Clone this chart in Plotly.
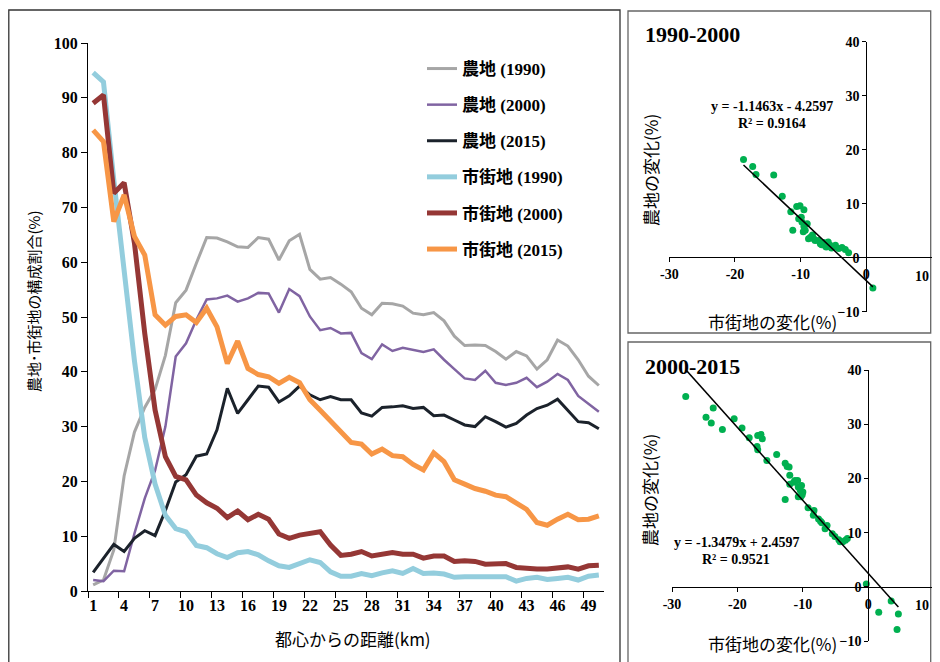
import plotly.graph_objects as go

# page offset of the plot inside the browser (default body margin)
OFF = 8
W, H = 940 - OFF, 662 - OFF
VISIBLE_RIGHT = 931.5  # page x beyond which the plot is clipped

# ---------------- data ----------------
distance_km = list(range(1, 51))
x_tick_labels = [str(v) for v in range(1, 50, 3)]

farm_1990 = [1.1, 2.0, 7.5, 21.0, 29.0, 33.5, 36.8, 43.0, 52.6, 54.9,
             59.8, 64.5, 64.4, 63.7, 62.8, 62.7, 64.5, 64.2, 60.4, 63.9,
             65.1, 58.7, 56.9, 57.2, 56.0, 54.6, 51.6, 50.4, 52.5, 52.4,
             52.0, 50.7, 50.4, 50.8, 49.3, 46.5, 44.8, 44.9, 44.8, 43.7,
             42.3, 43.7, 42.9, 40.5, 42.2, 45.8, 44.7, 42.2, 39.2, 37.5]
farm_2000 = [2.0, 1.8, 3.7, 3.6, 10.5, 16.9, 22.0, 30.0, 42.8, 45.2,
             49.5, 53.2, 53.4, 53.9, 52.8, 53.4, 54.4, 54.3, 50.8, 55.1,
             53.8, 50.1, 47.6, 48.0, 47.0, 47.1, 43.4, 42.3, 45.0, 43.8,
             44.4, 44.0, 43.6, 44.1, 42.2, 40.5, 38.8, 38.5, 40.2, 38.0,
             37.6, 38.0, 38.9, 37.2, 38.2, 39.6, 38.5, 35.6, 34.1, 32.7]
farm_2015 = [3.4, 6.0, 8.5, 7.2, 9.6, 11.0, 10.1, 14.7, 19.9, 21.2,
             24.6, 25.0, 29.4, 37.0, 32.4, 34.9, 37.4, 37.2, 34.5, 35.6,
             37.4, 35.8, 34.9, 35.5, 34.9, 34.9, 32.5, 31.9, 33.5, 33.6,
             33.8, 33.3, 33.5, 32.0, 32.1, 31.2, 30.3, 30.0, 31.8, 30.9,
             29.9, 30.6, 32.1, 33.3, 33.9, 35.0, 33.0, 30.9, 30.7, 29.6]
urban_1990 = [94.6, 92.9, 75.0, 58.5, 42.0, 28.0, 19.5, 13.8, 11.4, 10.8,
              8.3, 7.9, 6.8, 6.1, 7.0, 7.2, 6.6, 5.5, 4.6, 4.3,
              5.1, 5.7, 5.2, 3.5, 2.7, 2.7, 3.2, 2.8, 3.3, 3.7,
              3.2, 4.1, 3.2, 3.3, 3.1, 2.5, 2.6, 2.6, 2.5, 2.7,
              2.6, 1.8, 2.3, 2.5, 2.1, 2.3, 2.5, 2.0, 2.7, 2.9]
urban_2000 = [89.0, 90.5, 72.6, 74.5, 63.5, 47.0, 33.0, 24.5, 20.9, 20.3,
              17.5, 16.1, 15.1, 13.4, 14.6, 13.0, 14.0, 13.1, 10.4, 9.6,
              10.2, 10.6, 10.8, 8.4, 6.5, 6.7, 7.2, 6.4, 6.6, 7.0,
              6.7, 6.7, 6.0, 6.4, 6.4, 5.4, 5.5, 5.4, 4.9, 5.0,
              5.0, 4.3, 4.1, 4.0, 4.0, 4.3, 4.4, 4.0, 4.6, 4.7]
urban_2015 = [84.1, 82.0, 67.4, 72.3, 64.7, 61.3, 50.4, 48.5, 50.1, 50.4,
              49.0, 51.6, 48.2, 41.5, 45.6, 40.6, 39.5, 39.1, 37.9, 39.0,
              38.0, 34.9, 33.0, 31.0, 28.8, 27.1, 26.8, 25.0, 25.9, 24.7,
              24.5, 23.1, 22.1, 25.2, 23.6, 20.3, 19.5, 18.7, 18.2, 17.5,
              17.2, 16.1, 14.9, 12.5, 12.0, 13.1, 14.0, 13.0, 13.1, 13.7]

# scatter 1990-2000
urban_change_90_00 = [-18.7, -17.3, -16.8, -14.1, -12.8, -11.5, -11.2, -10.6, -10.1, -9.5,
                      -9.9, -9.8, -9.5, -9.3, -9.0, -8.8, -8.5, -8.0, -7.8, -7.3,
                      -7.0, -6.5, -6.2, -6.1, -5.8, -5.5, -5.0, -4.7, -4.2, -3.7,
                      -3.2, -2.7, 1.0, -10.3, -9.6, -8.2, -6.8, -5.3]
farm_change_90_00 = [18.2, 16.9, 15.4, 15.3, 11.4, 8.5, 5.1, 9.5, 9.6, 8.9,
                     7.5, 6.6, 5.8, 5.1, 6.3, 3.5, 3.8, 3.5, 3.2, 3.2,
                     2.6, 2.8, 2.1, 2.0, 2.9, 2.3, 1.9, 2.3, 1.7, 1.9,
                     1.5, 0.9, -5.6, 7.2, 4.8, 4.2, 2.4, 1.8]
slope_90_00, intercept_90_00, r2_90_00 = -1.1463, -4.2597, 0.9164

# scatter 2000-2015
urban_change_00_15 = [-27.9, -24.8, -24.0, -23.7, -22.3, -20.5, -19.3, -18.2, -16.9, -16.4,
                      -16.2, -17.0, -16.9, -15.5, -14.0, -12.7, -12.4, -12.1, -12.0, -12.7,
                      -12.0, -11.4, -11.2, -10.8, -10.7, -10.4, -10.2, -10.0, -10.7, -10.3,
                      -10.1, -9.2, -8.3, -8.4, -7.6, -7.3, -7.1, -6.3, -6.6, -5.5,
                      -5.1, -4.5, -4.3, -3.9, -3.5, -3.2, -0.3, 1.6, 3.5, 4.6, 4.4]
farm_change_00_15 = [35.1, 31.3, 30.2, 33.0, 29.0, 31.0, 29.3, 27.5, 27.9, 28.1,
                     27.3, 25.9, 25.3, 23.3, 24.4, 22.8, 22.2, 22.1, 20.6, 16.1,
                     18.9, 19.3, 19.6, 19.6, 18.4, 17.8, 18.7, 17.5, 16.6, 16.6,
                     17.0, 14.6, 14.1, 13.2, 12.5, 12.1, 11.8, 11.3, 10.7, 9.8,
                     9.3, 8.7, 8.3, 8.3, 8.6, 8.9, 0.5, -4.7, -2.6, -5.0, -7.9]
slope_00_15, intercept_00_15, r2_00_15 = -1.3479, 2.4597, 0.9521

change_ticks = [-30, -20, -10, 0, 10]

# ---------------- helpers (page pixels -> paper fraction) ----------------
def px_x(p):
    return (p - OFF) / W

def px_y(p):
    return 1 - (p - OFF) / H

SERIF = "Liberation Serif, Noto Sans CJK JP"
CJK = "Noto Sans CJK JP"

fig = go.Figure()

series = [
    ("農地 (1990)", farm_1990, "#A6A6A6", 3),
    ("農地 (2000)", farm_2000, "#8064A2", 2.5),
    ("農地 (2015)", farm_2015, "#1B222B", 3),
    ("市街地 (1990)", urban_1990, "#93CDDD", 5),
    ("市街地 (2000)", urban_2000, "#953735", 5),
    ("市街地 (2015)", urban_2015, "#F79646", 5),
]
for i, (name, vals, color, width) in enumerate(series):
    fig.add_trace(go.Scatter(x=distance_km, y=vals, mode="lines", name=name,
                             line=dict(color=color, width=width),
                             legendgroup=f"g{i}", xaxis="x", yaxis="y"))

def add_scatter(xs, ys, slope, intercept, xa, ya):
    fig.add_trace(go.Scatter(x=xs, y=ys, mode="markers", showlegend=False,
                             marker=dict(color="#00B050", size=7),
                             xaxis=xa, yaxis=ya))
    x0, x1 = min(xs), max(xs)
    fig.add_trace(go.Scatter(x=[x0, x1], y=[slope * x0 + intercept, slope * x1 + intercept],
                             mode="lines", showlegend=False,
                             line=dict(color="black", width=1.5),
                             xaxis=xa, yaxis=ya))

add_scatter(urban_change_90_00, farm_change_90_00, slope_90_00, intercept_90_00, "x2", "y2")
add_scatter(urban_change_00_15, farm_change_00_15, slope_00_15, intercept_00_15, "x3", "y3")

tickfont_main = dict(family=SERIF, size=16, color="black", weight="bold")
tickfont_sub = dict(family=SERIF, size=14, color="black", weight="bold")

common = dict(showline=True, linecolor="black", linewidth=1.2, showgrid=False,
              zeroline=False, automargin=False, tickcolor="black")

# last x tick label of the scatter panels is placed as an annotation so it is not clipped
change_ticktext = [str(v) for v in change_ticks[:-1]] + [""]

fig.update_layout(
    width=W, height=H,
    margin=dict(l=0, r=0, t=0, b=0, pad=0),
    paper_bgcolor="white", plot_bgcolor="rgba(0,0,0,0)",
    showlegend=True,
    legend=dict(x=px_x(422), y=px_y(51), xanchor="left", yanchor="top",
                font=dict(family=SERIF, size=17, color="black", weight="bold"),
                tracegroupgap=11, bgcolor="rgba(0,0,0,0)"),
    xaxis=dict(domain=[px_x(88), px_x(604)], range=[0.5, 50.5],
               tickvals=[int(v) for v in x_tick_labels], ticktext=x_tick_labels,
               ticks="", tickfont=tickfont_main,
               minor=dict(tickvals=[v - 0.5 for v in range(1, 52, 3)], ticks="outside",
                          ticklen=6, tickcolor="black", showgrid=False),
               anchor="y", **common),
    yaxis=dict(domain=[px_y(591), px_y(43)], range=[0, 100], dtick=10,
               ticks="outside", ticklen=6, tickfont=tickfont_main,
               anchor="x", **common),
    xaxis2=dict(domain=[px_x(669.3), px_x(932)], range=[-30, 10],
                tickvals=change_ticks, ticktext=change_ticktext,
                anchor="free", position=px_y(257.3),
                ticks="outside", ticklen=4, tickfont=tickfont_sub, **common),
    yaxis2=dict(domain=[px_y(311.7), px_y(41.7)], range=[-10, 40], dtick=10,
                anchor="free", position=px_x(866.3),
                ticks="outside", ticklen=4, tickfont=tickfont_sub, **common),
    xaxis3=dict(domain=[px_x(672), px_x(933.7)], range=[-30, 10],
                tickvals=change_ticks, ticktext=change_ticktext,
                anchor="free", position=px_y(586.7),
                ticks="outside", ticklen=4, tickfont=tickfont_sub, **common),
    yaxis3=dict(domain=[px_y(641), px_y(370)], range=[-10, 40], dtick=10,
                anchor="free", position=px_x(868.3),
                ticks="outside", ticklen=4, tickfont=tickfont_sub, **common),
)

# panel frames
frames = [
    (OFF + 0.8, 620, OFF + 2, 670, "#333333"),
    (628, VISIBLE_RIGHT - 0.8, 11, 333, "#666666"),
    (628, VISIBLE_RIGHT - 0.8, 342, 670, "#666666"),
]
for x0, x1, y0, y1, col in frames:
    fig.add_shape(type="rect", xref="paper", yref="paper",
                  x0=px_x(x0), x1=px_x(x1), y0=px_y(y1), y1=px_y(y0),
                  line=dict(color=col, width=1.3), fillcolor="rgba(0,0,0,0)", layer="below")

def ann(text, x, y, size, family, bold=False, angle=0, xanchor="center"):
    fig.add_annotation(text=text, x=px_x(x), y=px_y(y), xref="paper", yref="paper",
                       showarrow=False, textangle=angle, xanchor=xanchor, yanchor="middle",
                       font=dict(family=family, size=size, color="black",
                                 weight="bold" if bold else "normal"))

ann("農地･市街地の構成割合(%)", 33, 302, 15, CJK, angle=-90)
ann("都心からの距離(km)", 353, 638, 17, CJK)

ann("1990-2000", 643, 35, 22, SERIF, bold=True, xanchor="left")
ann("2000-2015", 643, 366, 22, SERIF, bold=True, xanchor="left")

ann(f"y = {slope_90_00:.4f}x - {abs(intercept_90_00):.4f}", 772, 107, 14, SERIF, bold=True)
ann(f"R² = {r2_90_00:.4f}", 772, 123, 14, SERIF, bold=True)
ann(f"y = {slope_00_15:.4f}x + {intercept_00_15:.4f}", 737, 542, 14, SERIF, bold=True)
ann(f"R² = {r2_00_15:.4f}", 736, 559, 14, SERIF, bold=True)

# clipped-edge tick labels "10"
ann(str(change_ticks[-1]), VISIBLE_RIGHT - 1, 276, 14, SERIF, bold=True, xanchor="right")
ann(str(change_ticks[-1]), VISIBLE_RIGHT - 1, 605, 14, SERIF, bold=True, xanchor="right")

ann("農地の変化(%)", 650, 170, 17, CJK, angle=-90)
ann("市街地の変化(%)", 772, 322, 17, CJK)
ann("農地の変化(%)", 650, 490, 17, CJK, angle=-90)
ann("市街地の変化(%)", 772, 643, 17, CJK)

fig.write_html("out.html")
